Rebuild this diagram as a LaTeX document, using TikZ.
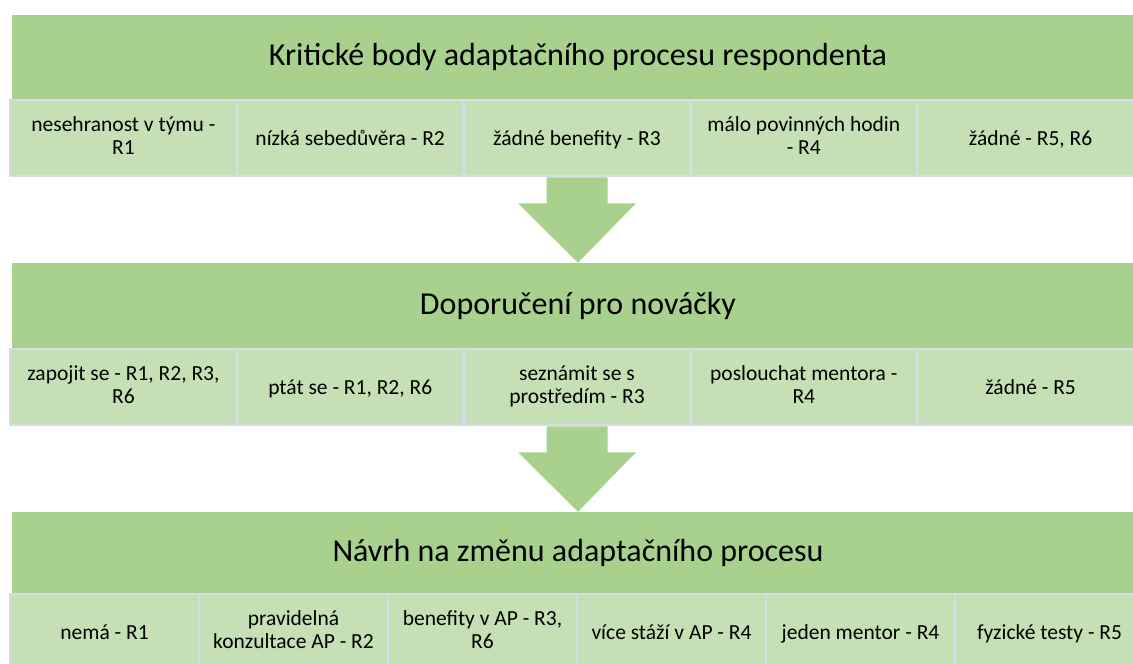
\documentclass[tikz,border=0pt]{standalone}
\usepackage{fontspec}
\setmainfont{Carlito}
\usetikzlibrary{positioning,calc}
\definecolor{headgreen}{HTML}{A9D18E}
\definecolor{cellgreen}{HTML}{C5E0B4}
\definecolor{cellline}{HTML}{D6DCE5}
\tikzset{
header/.style={
	fill=headgreen, inner sep=0pt,
	minimum width=1133pt, minimum height=85pt,
	font=\fontsize{32}{38}\selectfont},
cell/.style={
	fill=cellgreen, draw=cellline, line width=2.5pt, inner sep=0pt,
	minimum height=76pt, align=center,
	font=\fontsize{21.5}{23}\selectfont,
	execute at begin node={\rule{0pt}{20pt}},
	execute at end node={\rule[-5pt]{0pt}{5pt}}}
}
% block arrow from the bottom of a cell to the top of a header
\newcommand{\flowarrow}[2]{
	\fill[headgreen] ($(#1.south)+(-30.5,0)$) -- ($(#1.south)+(30.5,0)$)
		-- ($(#1.south)+(30.5,26)$) -- ($(#1.south)+(59,26)$) -- (#2.north)
		-- ($(#1.south)+(-59,26)$) -- ($(#1.south)+(-30.5,26)$) -- cycle;
}

\begin{document}
\begin{tikzpicture}[x=1pt, y=-1pt]
	\useasboundingbox (0,0) rectangle (1133,664);
	\clip (0,0) rectangle (1133,664);

	\node[header] (kb) at (578,57) {Kritické body adaptačního procesu respondenta};
	\foreach \t [count=\i] in {{nesehranost v týmu -\\R1}, {nízká sebedůvěra - R2},
		{žádné benefity - R3}, {málo povinných hodin\\- R4}, {žádné - R5, R6}}
		\node[cell, minimum width=226.8pt] (kb\i) at ({10+226.8*(\i-0.5)},138) {\t};

	\node[header] (dn) at (578,305.5) {Doporučení pro nováčky};
	\foreach \t [count=\i] in {{zapojit se - R1, R2, R3,\\R6}, {ptát se - R1, R2, R6},
		{seznámit se s\\prostředím - R3}, {poslouchat mentora -\\R4}, {žádné - R5}}
		\node[cell, minimum width=226.8pt] (dn\i) at ({10+226.8*(\i-0.5)},387) {\t};

	\node[header, minimum height=82pt] (nz) at (578,553) {Návrh na změnu adaptačního procesu};
	\foreach \t [count=\i] in {{nemá - R1}, {pravidelná\\konzultace AP - R2},
		{benefity v AP - R3,\\R6}, {více stáží v AP - R4}, {jeden mentor - R4},
		{fyzické testy - R5}}
		\node[cell, minimum width=189pt] (nz\i) at ({10+189*(\i-0.5)},632) {\t};

	\flowarrow{kb3}{dn}
	\flowarrow{dn3}{nz}
\end{tikzpicture}
\end{document}
